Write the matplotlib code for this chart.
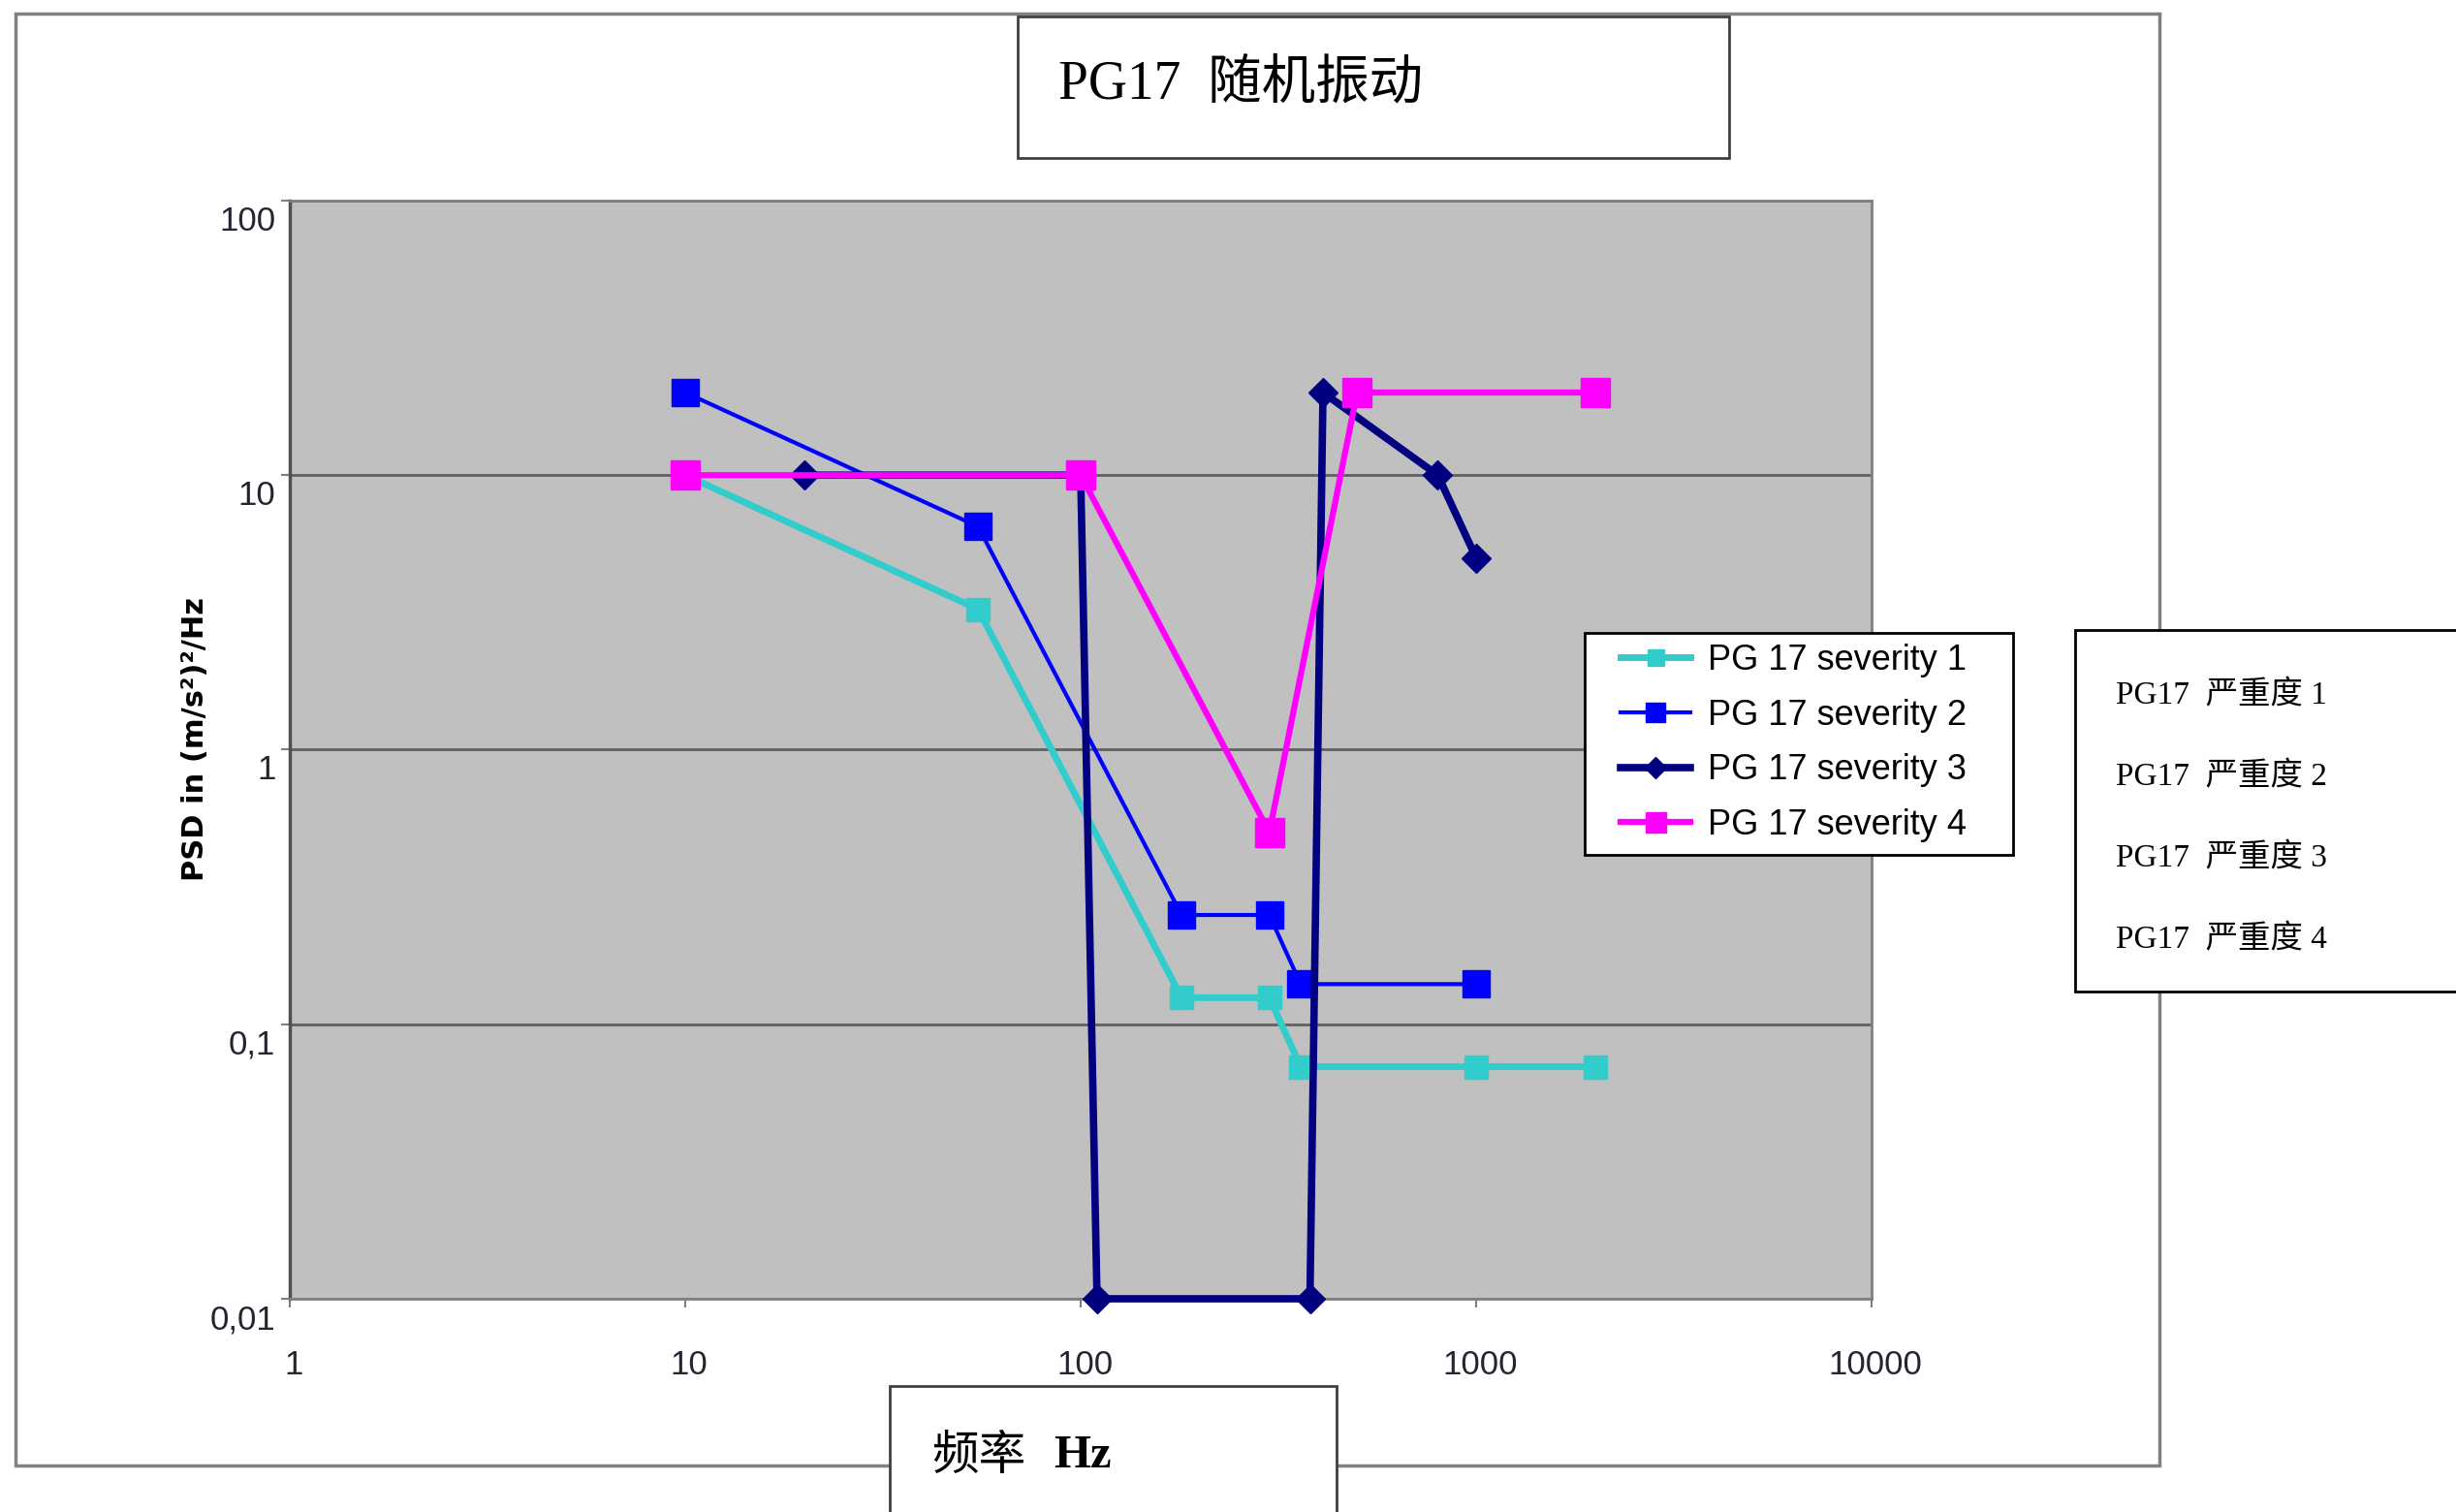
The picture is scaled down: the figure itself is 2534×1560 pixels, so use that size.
import matplotlib
matplotlib.use("Agg")
import matplotlib.pyplot as plt
import matplotlib.transforms as mtransforms
from matplotlib.patches import Rectangle
from matplotlib.ticker import NullLocator
from matplotlib.font_manager import FontProperties

# ---- data -------------------------------------------------------------
freq_sev1 = [10, 55, 180, 300, 360, 1000, 2000]
psd_sev1 = [10, 3.25, 0.125, 0.125, 0.07, 0.07, 0.07]

freq_sev2 = [10, 55, 180, 300, 360, 1000]
psd_sev2 = [20, 6.5, 0.25, 0.25, 0.14, 0.14]

freq_sev3 = [20, 100, 110, 380, 410, 800, 1000]
psd_sev3 = [10, 10, 0.01, 0.01, 20, 10, 5]

freq_sev4 = [10, 100, 300, 500, 2000]
psd_sev4 = [10, 10, 0.5, 20, 20]

series_labels = ["PG 17 severity 1", "PG 17 severity 2",
                 "PG 17 severity 3", "PG 17 severity 4"]
series_labels_cn = ["PG17  严重度 1", "PG17  严重度 2",
                    "PG17  严重度 3", "PG17  严重度 4"]
title_text = "PG17  随机振动"
xlabel_cn = "频率"
xlabel_unit = "Hz"
ylabel_text = "PSD in (m/s²)²/Hz"

x_ticks = [1, 10, 100, 1000, 10000]
x_tick_labels = ["1", "10", "100", "1000", "10000"]
y_ticks = [0.01, 0.1, 1, 10, 100]
y_tick_labels = ["0,01", "0,1", "1", "10", "100"]

# ---- figure geometry (pixels) -------------------------------------------
W, H, DPI = 2534, 1560, 100


def fx(px):
    return px / W


def fy(py):
    return 1 - py / H


def box(x0, y0, x1, y1, **kw):
    return Rectangle((fx(x0), fy(y1)), (x1 - x0) / W, (y1 - y0) / H,
                     transform=fig.transFigure, **kw)


fig = plt.figure(figsize=(W / DPI, H / DPI), dpi=DPI, facecolor="white")

serif_cjk = ["Liberation Serif", "Noto Sans CJK SC"]
tick_color = "#252532"

# outer chart frame
fig.add_artist(box(16, 14, 2228, 1512, fill=False, ec="#808080", lw=2.5,
                   zorder=1))

ax = fig.add_axes([fx(299), fy(1340), (1931 - 299) / W, (1340 - 207) / H])
ax.set_facecolor("#C0C0C0")
ax.set_xscale("log")
ax.set_yscale("log")
ax.set_xlim(1, 10000)
ax.set_ylim(0.01, 100)

ax.plot(freq_sev1, psd_sev1, color="#33CCCC", lw=5, marker="s", ms=17,
        label=series_labels[0], clip_on=False, zorder=3)
ax.plot(freq_sev2, psd_sev2, color="#0000FF", lw=3, marker="s", ms=20,
        label=series_labels[1], clip_on=False, zorder=4)
ax.plot(freq_sev3, psd_sev3, color="#000080", lw=5.5, marker="D", ms=15,
        label=series_labels[2], clip_on=False, zorder=5)
ax.plot(freq_sev4, psd_sev4, color="#FF00FF", lw=4.5, marker="s", ms=21,
        label=series_labels[3], clip_on=False, zorder=6)

ax.set_xticks(x_ticks, x_tick_labels)
ax.set_yticks(y_ticks, y_tick_labels)
ax.xaxis.set_minor_locator(NullLocator())
ax.yaxis.set_minor_locator(NullLocator())

ax.tick_params(axis="both", which="major", direction="out", length=6.5,
               width=1.5, color="#808080", labelsize=25,
               labelcolor=tick_color)
ax.tick_params(axis="x", pad=31)
ax.tick_params(axis="y", pad=4)
for lbl in ax.get_xticklabels() + ax.get_yticklabels():
    lbl.set_fontfamily("Liberation Sans")

shift_y = mtransforms.ScaledTranslation(0, -0.18, fig.dpi_scale_trans)
for lbl in ax.get_yticklabels():
    lbl.set_transform(lbl.get_transform() + shift_y)
shift_x = mtransforms.ScaledTranslation(0.04, 0, fig.dpi_scale_trans)
for lbl in ax.get_xticklabels():
    lbl.set_transform(lbl.get_transform() + shift_x)

ax.yaxis.grid(True, color="#606060", lw=2)
ax.xaxis.grid(False)
ax.set_axisbelow(True)
for side in ["top", "right", "bottom"]:
    ax.spines[side].set_color("#808080")
    ax.spines[side].set_linewidth(2)
ax.spines["left"].set_color("#505050")
ax.spines["left"].set_linewidth(2.5)

# y axis label
fig.text(fx(202), fy(762), ylabel_text, rotation=90, ha="center",
         va="center", fontsize=22, fontweight="bold", family="DejaVu Sans",
         color="black")

# title box
fig.add_artist(box(1050, 17, 1784, 163, fc="white", ec="#404040", lw=2,
                   zorder=3))
fig.text(fx(1092), fy(87), title_text, ha="left", va="center", fontsize=40,
         family=serif_cjk, color="black", zorder=4)

# x axis label box
fig.add_artist(box(918, 1430, 1379, 1600, fc="white", ec="#404040", lw=2,
                   zorder=3))
fig.text(fx(961), fy(1502), xlabel_cn, ha="left", va="center", fontsize=35,
         family="Noto Sans CJK SC", color="black", zorder=4)
fig.text(fx(1087), fy(1502), xlabel_unit, ha="left", va="center",
         fontsize=35, family="Liberation Serif", fontweight="bold",
         color="black", zorder=4)

# legend
fig.add_artist(box(1635, 653, 2077, 882, fc="white", ec="black", lw=2,
                   zorder=4))
handles, labels = ax.get_legend_handles_labels()
leg = fig.legend(handles, labels, loc="upper left",
                 bbox_to_anchor=(fx(1672), fy(664)), frameon=False,
                 borderpad=0, borderaxespad=0, handlelength=2.0,
                 handletextpad=0.5, labelspacing=0.6, markerscale=0.72,
                 prop=FontProperties(family="Liberation Sans", size=26))
leg.set_zorder(5)

# Chinese series-name box
fig.add_artist(box(2141, 650, 2600, 1023, fc="white", ec="black", lw=2,
                   zorder=4))
for i, name in enumerate(series_labels_cn):
    fig.text(fx(2183), fy(718 + 84 * i), name, ha="left", va="center",
             fontsize=24, family=serif_cjk, color="black", zorder=5)

fig.savefig("out.png", dpi=DPI, facecolor="white")
